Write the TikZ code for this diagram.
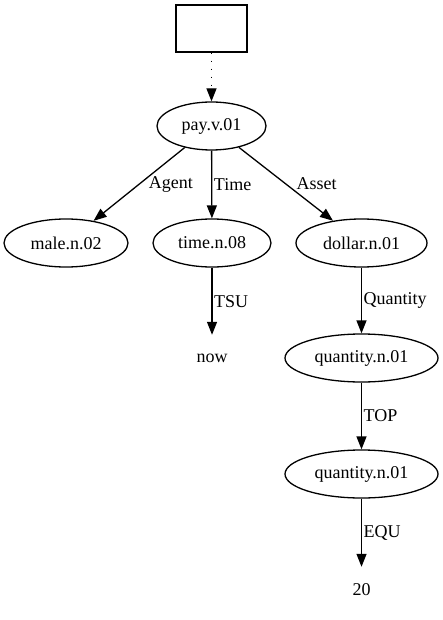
\documentclass[tikz,border=0pt]{standalone}
\usepackage{fontspec}
\setmainfont{Liberation Serif}
\usetikzlibrary{shapes.geometric,arrows.meta}
\begin{document}
\begin{tikzpicture}[x=1pt,y=-1pt,
  every node/.style={font=\fontsize{18pt}{21pt}\selectfont},
  ell/.style={draw,ellipse,line width=1.3pt,inner sep=0pt,minimum height=48pt},
  plain/.style={inner sep=0pt,minimum height=46pt,minimum width=30pt},
  edge/.style={line width=1.3pt,-{Triangle[length=13pt,width=10pt]}},
  lab/.style={anchor=west,inner sep=1.5pt}]
\useasboundingbox (0,0) rectangle (443,620);
\node[draw,line width=1.3pt,minimum width=71pt,minimum height=47pt,inner sep=0pt] (top) at (211.5,28.5) {};
\node[ell,minimum width=109pt] (pay) at (211.5,126) {pay.v.01};
\node[ell,minimum width=124pt] (male) at (66,243) {male.n.02};
\node[ell,minimum width=118pt] (time) at (212,243) {time.n.08};
\node[ell,minimum width=131pt] (dollar) at (361.5,243) {dollar.n.01};
\node[plain] (now) at (212,358) {now};
\node[ell,minimum width=153pt] (q1) at (361.5,358) {quantity.n.01};
\node[ell,minimum width=153pt] (q2) at (361.5,474) {quantity.n.01};
\node[plain] (twenty) at (361.5,590) {20};
\draw[edge,dash pattern=on 1.6pt off 6.4pt] (top) -- (pay);
\draw[edge] (pay) -- (male) node[pos=0.5,anchor=west,inner sep=0pt,xshift=9pt] {Agent};
\draw[edge] (pay) -- (time) node[lab,pos=0.5] {Time};
\draw[edge] (pay) -- (dollar) node[pos=0.5,anchor=west,inner sep=0pt,xshift=10pt] {Asset};
\draw[edge] (time) -- (now) node[lab,pos=0.5] {TSU};
\draw[edge] (dollar) -- (q1) node[lab,pos=0.5] {Quantity};
\draw[edge] (q1) -- (q2) node[lab,pos=0.5] {TOP};
\draw[edge] (q2) -- (twenty) node[lab,pos=0.5] {EQU};
\end{tikzpicture}
\end{document}
